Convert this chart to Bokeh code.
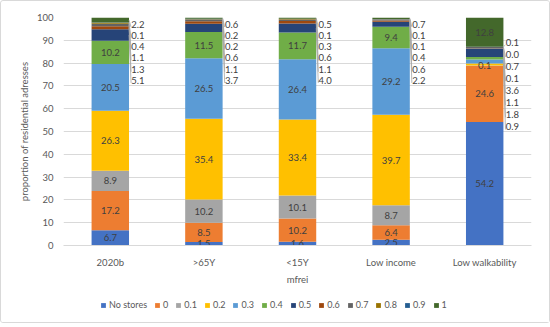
from bokeh.plotting import figure
from bokeh.layouts import column
from bokeh.models import (ColumnDataSource, Range1d, Legend, LegendItem, FixedTicker)
from bokeh.embed import file_html
from bokeh.resources import INLINE
from bokeh.core.properties import value

# ---------------- data ----------------
categories = ["2020b", ">65Y", "<15Y", "Low income", "Low walkability"]
series = ["No stores", "0", "0.1", "0.2", "0.3", "0.4", "0.5", "0.6", "0.7", "0.8", "0.9", "1"]

no_stores = [6.7, 1.5, 1.6, 2.5, 54.2]
s_0 = [17.2, 8.5, 10.2, 6.4, 24.6]
s_01 = [8.9, 10.2, 10.1, 8.7, 0.1]
s_02 = [26.3, 35.4, 33.4, 39.7, 0.9]
s_03 = [20.5, 26.5, 26.4, 29.2, 1.8]
s_04 = [10.2, 11.5, 11.7, 9.4, 1.1]
s_05 = [5.1, 3.7, 4.0, 2.2, 3.6]
s_06 = [1.3, 1.1, 1.1, 0.6, 0.1]
s_07 = [1.1, 0.6, 0.6, 0.4, 0.7]
s_08 = [0.4, 0.2, 0.3, 0.1, 0.0]
s_09 = [0.1, 0.2, 0.1, 0.1, 0.1]
s_1 = [2.2, 0.6, 0.5, 0.7, 12.8]

y_ticks = [0, 10, 20, 30, 40, 50, 60, 70, 80, 90, 100]

values = [no_stores, s_0, s_01, s_02, s_03, s_04, s_05, s_06, s_07, s_08, s_09, s_1]

colors = ["#4472C4", "#ED7D31", "#A5A5A5", "#FFC000", "#5B9BD5", "#70AD47",
          "#264478", "#9E480E", "#636363", "#997300", "#255E91", "#43682B"]

FONT = "Lato"
TXT = "#404040"
AX = "#595959"
GRID = "#D9D9D9"
BAR_W = 0.4

# labels that stay inside the bar although small
INSIDE_SMALL = {("Low walkability", "0.1")}

# ---------------- figure ----------------
p = figure(width=548, height=291, x_range=Range1d(0, len(categories)),
           y_range=Range1d(0, 100), output_backend="svg", toolbar_location=None,
           min_border_left=62, min_border_right=18, min_border_top=16,
           min_border_bottom=47)
p.outline_line_color = None
p.background_fill_color = "white"
p.border_fill_color = "white"

xs = [i + 0.5 for i in range(len(categories))]
keys = ["v%d" % k for k in range(len(series))]
src = {"x": xs}
for k, arr in zip(keys, values):
    src[k] = arr
source = ColumnDataSource(src)

renderers = p.vbar_stack(keys, x="x", width=BAR_W, color=colors, line_color=None,
                         source=source)

# ---------------- labels ----------------
in_x, in_y, in_t = [], [], []
out_x, out_y, out_t = [], [], []
l_x0, l_y0, l_x1, l_y1 = [], [], [], []
for i, cat in enumerate(categories):
    bottom = 0.0
    segs = []
    for s, arr in zip(series, values):
        v = arr[i]
        segs.append((s, v, bottom, bottom + v))
        bottom += v
    outside = []
    for s, v, b, t in segs:
        if v < 6 and b > 50 and (cat, s) not in INSIDE_SMALL:
            outside.append((s, v, b, t))
        else:
            in_x.append(xs[i]); in_y.append((b + t) / 2); in_t.append("%.1f" % v)
    outside = outside[::-1]
    if outside:
        top_y = min(97.0, outside[0][3] + 2)
        step = 4.9 if len(outside) <= 6 else 5.3
        edge = xs[i] + BAR_W / 2
        for j, (s, v, b, t) in enumerate(outside):
            ly = top_y - j * step
            out_x.append(edge + 0.025); out_y.append(ly); out_t.append("%.1f" % v)
            l_x0.append(edge); l_y0.append((b + t) / 2)
            l_x1.append(edge + 0.022); l_y1.append(ly - 1.2)

p.segment(x0=l_x0, y0=l_y0, x1=l_x1, y1=l_y1, line_color="#A6A6A6", line_width=0.8)
p.text(x=in_x, y=in_y, text=in_t, text_align="center", text_baseline="middle",
       text_font=value(FONT), text_font_size="9.5px", text_color=TXT)
p.text(x=out_x, y=out_y, text=out_t, text_align="left", text_baseline="middle",
       text_font=value(FONT), text_font_size="9.5px", text_color=TXT)

# ---------------- axes ----------------
p.xaxis.ticker = FixedTicker(ticks=xs)
p.xaxis.major_label_overrides = {x: c for x, c in zip(xs, categories)}
p.xaxis.axis_label = "mfrei"
p.xaxis.axis_line_color = GRID
p.xaxis.major_label_standoff = 11
p.xaxis.axis_label_standoff = 3
for ax in (p.xaxis, p.yaxis):
    ax.major_tick_line_color = None
    ax.minor_tick_line_color = None
    ax.major_tick_out = 0
    ax.major_tick_in = 0
    ax.minor_tick_out = 0
    ax.major_label_text_font = FONT
    ax.major_label_text_font_size = "9.5px"
    ax.major_label_text_color = AX
    ax.axis_label_text_font = FONT
    ax.axis_label_text_font_size = "9.5px"
    ax.axis_label_text_font_style = "normal"
    ax.axis_label_text_color = AX

p.yaxis.ticker = FixedTicker(ticks=y_ticks)
p.yaxis.axis_label = "proportion of residential adresses"
p.yaxis.axis_line_color = None
p.yaxis.major_label_standoff = 10
p.yaxis.axis_label_standoff = 4

p.xgrid.grid_line_color = None
p.ygrid.grid_line_color = GRID
p.ygrid.ticker = FixedTicker(ticks=y_ticks)

# ---------------- legend (own strip below the chart) ----------------
lg = figure(width=548, height=30, x_range=Range1d(0, 1), y_range=Range1d(0, 1),
            x_axis_type=None, y_axis_type=None,
            output_backend="svg", toolbar_location=None,
            min_border_left=62, min_border_right=18, min_border_top=0,
            min_border_bottom=0)
lg.grid.visible = False
lg.outline_line_color = None
# swatch renderers placed far outside the visible range (used only for the legend keys)
swatches = [lg.vbar(x=[-10], bottom=[-10], top=[-9], width=0.1, fill_color=c,
                    line_color=None) for c in colors]
items = [LegendItem(label=s, renderers=[r]) for s, r in zip(series, swatches)]
legend = Legend(items=items, orientation="horizontal", location=(37, 12),
                glyph_width=6, glyph_height=6, label_standoff=3, spacing=7,
                label_text_font=FONT, label_text_font_size="9px",
                label_text_color=AX, border_line_color=None,
                background_fill_alpha=0, padding=0, margin=0,
                label_height=10, label_width=0)
lg.add_layout(legend, "center")

layout = column(p, lg, spacing=0,
                styles={"border": "1px solid #D9D9D9", "border-radius": "3px"})
open("out.html", "w").write(file_html(layout, INLINE))
